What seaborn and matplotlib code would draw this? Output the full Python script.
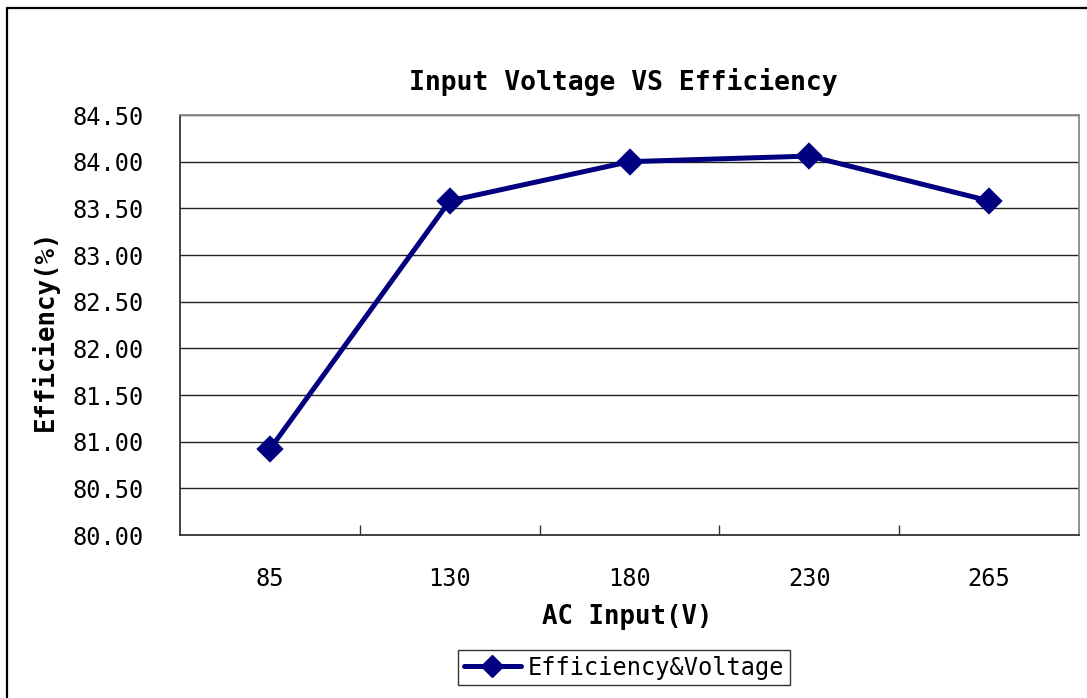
import matplotlib
matplotlib.use("Agg")
import matplotlib.pyplot as plt
from matplotlib.lines import Line2D
import seaborn as sns
import pandas as pd
import numpy as np

# Data
voltages = ["85", "130", "180", "230", "265"]
efficiency = [80.92, 83.58, 84.00, 84.06, 83.58]
y_ticks = [80.0, 80.5, 81.0, 81.5, 82.0, 82.5, 83.0, 83.5, 84.0, 84.5]
series_name = "Efficiency&Voltage"

df = pd.DataFrame({"AC Input(V)": voltages, "Efficiency(%)": efficiency})

sns.set_style("white")
plt.rcParams["font.family"] = ["DejaVu Sans Mono", "DejaVu Sans"]
plt.rcParams["text.color"] = "black"
plt.rcParams["axes.labelcolor"] = "black"
plt.rcParams["xtick.color"] = "black"
plt.rcParams["ytick.color"] = "black"

W, H = 1087, 698
fig = plt.figure(figsize=(W / 100, H / 100), dpi=100)
ax = fig.add_axes([180 / W, 1 - 535 / H, (1079 - 180) / W, (535 - 115) / H])

navy = "#000080"
sns.pointplot(data=df, x="AC Input(V)", y="Efficiency(%)", ax=ax,
              color=navy, markers="D", linestyles="-",
              markersize=11.5, linewidth=3.6, errorbar=None)
for ln in ax.lines:
    ln.set_markeredgecolor(navy)
    ln.set_markerfacecolor(navy)

ax.set_xlim(-0.5, 4.5)
ax.set_ylim(80.0, 84.5)
ax.set_yticks(y_ticks)
ax.set_yticklabels([f"{v:.2f}" for v in y_ticks])
ax.set_xticks(range(len(voltages)))
ax.set_xticklabels(voltages)
ax.set_xticks(np.arange(0.5, len(voltages) - 0.5, 1.0), minor=True)

ax.yaxis.grid(True, color="#222222", linewidth=1.0)
ax.xaxis.grid(False)
ax.set_axisbelow(True)

ax.tick_params(axis="y", which="major", direction="in", length=0,
               labelsize=17, pad=26, labelcolor="black")
ax.tick_params(axis="x", which="major", length=0, labelsize=17, pad=23,
               labelcolor="black")
ax.tick_params(axis="x", which="minor", direction="in", length=7,
               width=1.0, color="#333333", bottom=True)

for side in ["left", "bottom"]:
    ax.spines[side].set_color("#333333")
    ax.spines[side].set_linewidth(1.3)
for side in ["top", "right"]:
    ax.spines[side].set_color("#888888")
    ax.spines[side].set_linewidth(1.3)

ax.set_xlabel("AC Input(V)", fontsize=18.5, fontweight="bold", color="black")
ax.set_ylabel("Efficiency(%)", fontsize=18.5, fontweight="bold", color="black")
ax.xaxis.set_label_coords((627 - 180) / (1079 - 180), (535 - 617) / (535 - 115))
ax.xaxis.label.set_va("center")
ax.yaxis.set_label_coords((45 - 180) / (1079 - 180), (535 - 330) / (535 - 115))
ax.yaxis.label.set_va("center")

fig.text(623 / W, 1 - 82 / H, "Input Voltage VS Efficiency",
         ha="center", va="center", fontsize=19, fontweight="bold", color="black")

handle = Line2D([], [], color=navy, linewidth=3.6, marker="D",
                markersize=11, markerfacecolor=navy, markeredgecolor=navy)
leg = fig.legend([handle], [series_name], loc="center",
                 bbox_to_anchor=(624 / W, 1 - 667.5 / H),
                 fontsize=17, frameon=True, fancybox=False,
                 edgecolor="black", handlelength=2.4, borderpad=0.25,
                 handletextpad=0.3, borderaxespad=0)
leg.get_frame().set_linewidth(1.0)
for t in leg.get_texts():
    t.set_color("black")

# outer chart border (left and top visible)
fig.add_artist(Line2D([7 / W, 7 / W], [0, 1 - 8 / H], transform=fig.transFigure,
                      color="black", linewidth=1.6))
fig.add_artist(Line2D([7 / W, 1], [1 - 8 / H, 1 - 8 / H], transform=fig.transFigure,
                      color="black", linewidth=1.6))

fig.savefig("out.png", dpi=100, facecolor="white")
